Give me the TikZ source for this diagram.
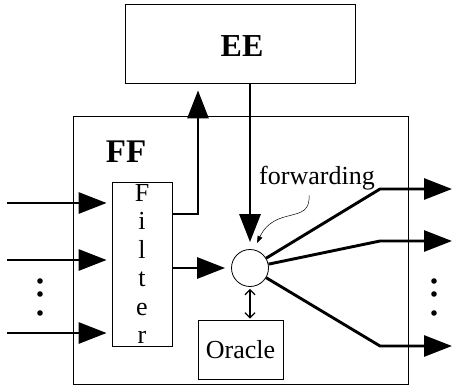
\documentclass[tikz,border=0pt]{standalone}
\usepackage{fontspec}
\setmainfont{Liberation Serif}
\usetikzlibrary{arrows.meta}
\tikzset{
	box/.style={draw, line width=0.8pt, inner sep=0pt},
	flow/.style={line width=2.9pt, -{Triangle[length=28pt, width=21pt]}},
	dotmark/.style={fill=black, draw=none}
}
\begin{document}
\begin{tikzpicture}[x=1pt, y=-1pt]
		%%%%% START %%%%%
		\useasboundingbox (0, 0) rectangle (453, 386);
		
		\node[box, minimum width=230pt, minimum height=79pt] (ee) at (240, 43.5) {};
		\node[font=\fontsize{32}{32}\selectfont\bfseries] (eelabel) at (242, 46) {EE};
		
		\node[box, minimum width=335pt, minimum height=268pt] (ff) at (240.5, 250.5) {};
		\node[font=\fontsize{33}{33}\selectfont\bfseries] (fflabel) at (126, 152) {FF};
		
		\node[box, minimum width=60pt, minimum height=164pt, align=center,
			font=\fontsize{26}{28.5}\selectfont] (filter) at (142, 264) {F\\i\\l\\t\\e\\r};
		\node[box, circle, minimum size=37pt] (fwd) at (250, 268) {};
		\node[box, minimum width=85pt, minimum height=59pt,
			font=\fontsize{26}{26}\selectfont] (oracle) at (240.5, 349.5) {Oracle};
		\node[font=\fontsize{26}{26}\selectfont] (fwdlabel) at (317, 178) {forwarding};
		
		% inputs
		\foreach \y [count=\i] in {203, 260, 333} {
			\coordinate (in\i) at (7, \y);
			\draw[flow, shorten >=5pt] (in\i) -- (in\i -| filter.west);
		}
		
		% filter to EE and EE down to forwarding
		\draw[flow, shorten >=7pt] ([yshift=50pt]filter.east) -| ([xshift=-42pt]ee.south);
		\draw[flow, shorten >=7pt] (fwd |- ee.south) -- (fwd.north);
		\draw[flow, shorten >=6pt] (filter.east |- fwd) -- (fwd.west);
		
		% outputs
		\foreach \y [count=\i] in {189, 241, 346} {
			\coordinate (bend\i) at (380, \y);
			\coordinate (out\i) at (452, \y);
			\draw[flow] (fwd) -- (bend\i) -- (out\i);
		}
		
		% oracle
		\draw[line width=1.3pt, {Straight Barb[length=5pt, width=10pt]}-{Straight Barb[length=5pt, width=10pt]}]
			([yshift=-2pt]fwd.south) -- ([yshift=1pt]fwd.south |- oracle.north);
		
		% pointer
		\coordinate (tip) at (257, 243);
		\draw[line width=0.5pt, -{Triangle[length=7pt, width=5pt]}]
			([xshift=-8pt, yshift=-2pt]fwdlabel.south) .. controls (311, 225) and (275, 205) .. (tip);
		
		% dots
		\foreach \x in {40, 434}
			\foreach \y in {281, 294, 313}
				\fill[dotmark] (\x, \y) circle (2.8);
		%%%%% END %%%%%
\end{tikzpicture}
\end{document}
